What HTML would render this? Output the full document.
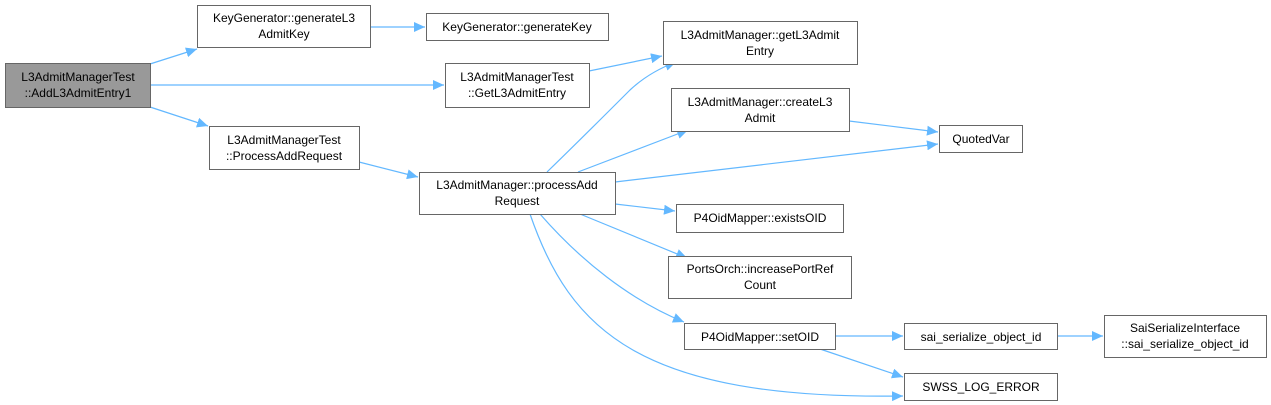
<!DOCTYPE html>
<html><head><meta charset="utf-8"><style>
html,body{margin:0;padding:0;background:#fff;width:1271px;height:405px;overflow:hidden}
svg text{font-family:"Liberation Sans",Arial,sans-serif;font-size:12px;fill:#000}
</style></head><body>
<svg width="1271" height="405" viewBox="0 0 1271 405" xmlns="http://www.w3.org/2000/svg">
<defs>
<marker id="a" markerUnits="userSpaceOnUse" markerWidth="12" markerHeight="10" refX="11" refY="5" orient="auto">
<polygon points="0,0 11,5 0,10" fill="#63b8ff"/>
</marker>
</defs>
<g fill="none" stroke="#63b8ff" stroke-width="1.2" marker-end="url(#a)">
<path d="M150,64 L197,49"/>
<path d="M150,85 L444,85"/>
<path d="M150,107 L208,126"/>
<path d="M371,27 L425,27"/>
<path d="M589,71 L662,56"/>
<path d="M359,162 L418,177"/>
<path d="M547,172 C580,140 610,110 630,90 C645,76 660,68 676,62"/>
<path d="M578,172 L688,130"/>
<path d="M615,182 L938,144"/>
<path d="M849,121 L938,132"/>
<path d="M615,204 L675,211"/>
<path d="M580,214 L687,258"/>
<path d="M540,214 C580,260 630,300 684,322"/>
<path d="M530,214 C570,330 640,400 903,396"/>
<path d="M835,336 L903,336"/>
<path d="M1057,336 L1103,336"/>
<path d="M820,349 L903,377"/>
</g>
<g stroke="#666" stroke-width="1" fill="#fff">
<rect x="5.5" y="63.5" width="145" height="44" fill="#999"/>
<rect x="197.5" y="5.5" width="173" height="42"/>
<rect x="426.5" y="13.5" width="182" height="27"/>
<rect x="445.5" y="63.5" width="144" height="44"/>
<rect x="209.5" y="126.5" width="150" height="43"/>
<rect x="419.5" y="172.5" width="196" height="42"/>
<rect x="663.5" y="21.5" width="194" height="43"/>
<rect x="671.5" y="88.5" width="178" height="43"/>
<rect x="939.5" y="125.5" width="83" height="27"/>
<rect x="676.5" y="204.5" width="167" height="28"/>
<rect x="668.5" y="256.5" width="183" height="42"/>
<rect x="684.5" y="323.5" width="151" height="26"/>
<rect x="904.5" y="323.5" width="153" height="26"/>
<rect x="1104.5" y="315.5" width="162" height="42"/>
<rect x="904.5" y="373.5" width="153" height="27"/>
</g>
<g text-anchor="middle">
<text x="78" y="81">L3AdmitManagerTest</text><text x="78" y="97">::AddL3AdmitEntry1</text>
<text x="284" y="22">KeyGenerator::generateL3</text><text x="284" y="38">AdmitKey</text>
<text x="517" y="31">KeyGenerator::generateKey</text>
<text x="517" y="81">L3AdmitManagerTest</text><text x="517" y="97">::GetL3AdmitEntry</text>
<text x="284" y="144">L3AdmitManagerTest</text><text x="284" y="160">::ProcessAddRequest</text>
<text x="517" y="189">L3AdmitManager::processAdd</text><text x="517" y="205">Request</text>
<text x="760" y="39">L3AdmitManager::getL3Admit</text><text x="760" y="55">Entry</text>
<text x="760" y="106">L3AdmitManager::createL3</text><text x="760" y="122">Admit</text>
<text x="981" y="143">QuotedVar</text>
<text x="760" y="222">P4OidMapper::existsOID</text>
<text x="760" y="273">PortsOrch::increasePortRef</text><text x="760" y="289">Count</text>
<text x="760" y="341">P4OidMapper::setOID</text>
<text x="981" y="341">sai_serialize_object_id</text>
<text x="1185" y="332">SaiSerializeInterface</text><text x="1185" y="348">::sai_serialize_object_id</text>
<text x="981" y="391">SWSS_LOG_ERROR</text>
</g>
</svg>
</body></html>
